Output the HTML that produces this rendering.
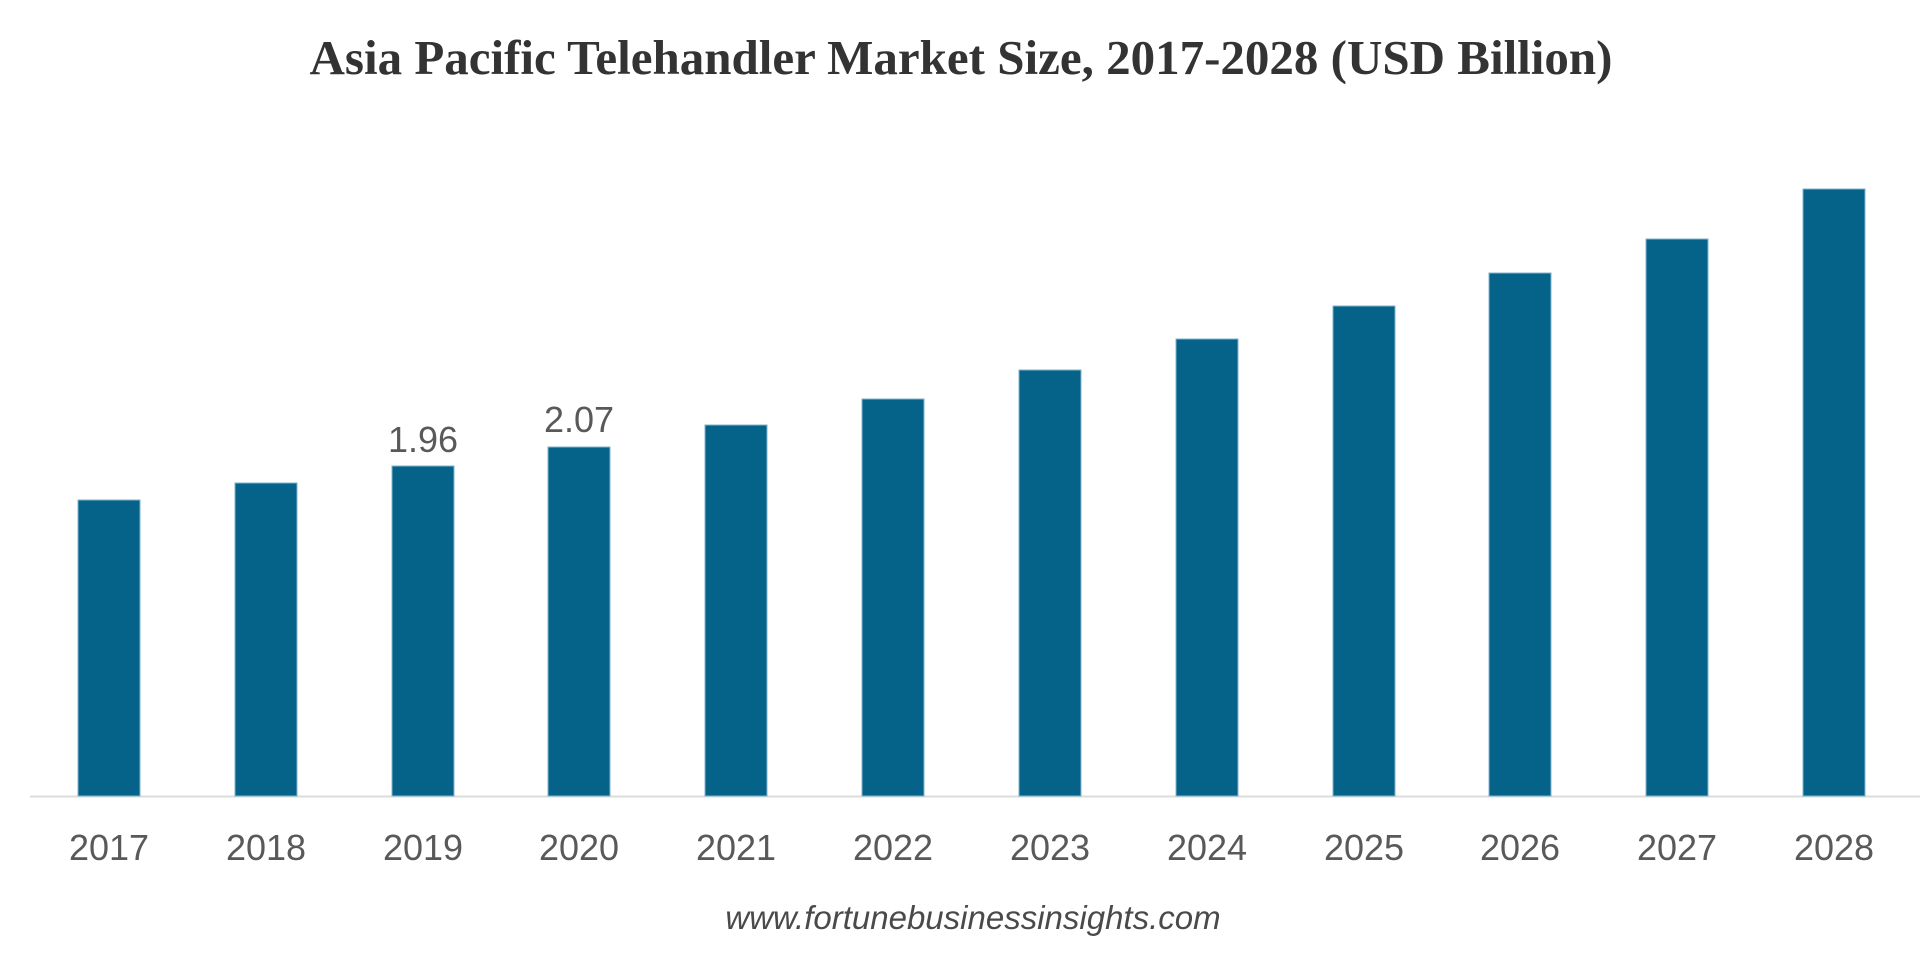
<!DOCTYPE html>
<html><head><style>
html,body{margin:0;padding:0;background:#fff;}
body{width:1920px;height:954px;overflow:hidden;position:relative;}
</style></head><body>
<svg width="1920" height="954" xmlns="http://www.w3.org/2000/svg">
<text x="961" y="74" text-anchor="middle" font-family="Liberation Serif, serif" font-weight="bold" font-size="49" fill="#333">Asia Pacific Telehandler Market Size, 2017-2028 (USD Billion)</text>
<line x1="30" y1="796.5" x2="1920" y2="796.5" stroke="#dcdcdc" stroke-width="2"/>
<g fill="#05638a" stroke="#7fb3cc" stroke-width="1">
<rect x="78" y="500" width="62" height="296"/>
<rect x="235" y="483" width="62" height="313"/>
<rect x="392" y="466" width="62" height="330"/>
<rect x="548" y="447" width="62" height="349"/>
<rect x="705" y="425" width="62" height="371"/>
<rect x="862" y="399" width="62" height="397"/>
<rect x="1019" y="370" width="62" height="426"/>
<rect x="1176" y="339" width="62" height="457"/>
<rect x="1333" y="306" width="62" height="490"/>
<rect x="1489" y="273" width="62" height="523"/>
<rect x="1646" y="239" width="62" height="557"/>
<rect x="1803" y="189" width="62" height="607"/>
</g>
<g font-family="Liberation Sans, sans-serif" font-size="36" fill="#595959" text-anchor="middle">
<text x="423" y="452">1.96</text>
<text x="579" y="432">2.07</text>
<text x="109" y="860">2017</text>
<text x="266" y="860">2018</text>
<text x="423" y="860">2019</text>
<text x="579" y="860">2020</text>
<text x="736" y="860">2021</text>
<text x="893" y="860">2022</text>
<text x="1050" y="860">2023</text>
<text x="1207" y="860">2024</text>
<text x="1364" y="860">2025</text>
<text x="1520" y="860">2026</text>
<text x="1677" y="860">2027</text>
<text x="1834" y="860">2028</text>
</g>
<text x="973" y="929" text-anchor="middle" font-family="Liberation Sans, sans-serif" font-style="italic" font-size="33" fill="#4a4a4a">www.fortunebusinessinsights.com</text>
</svg>
</body></html>
